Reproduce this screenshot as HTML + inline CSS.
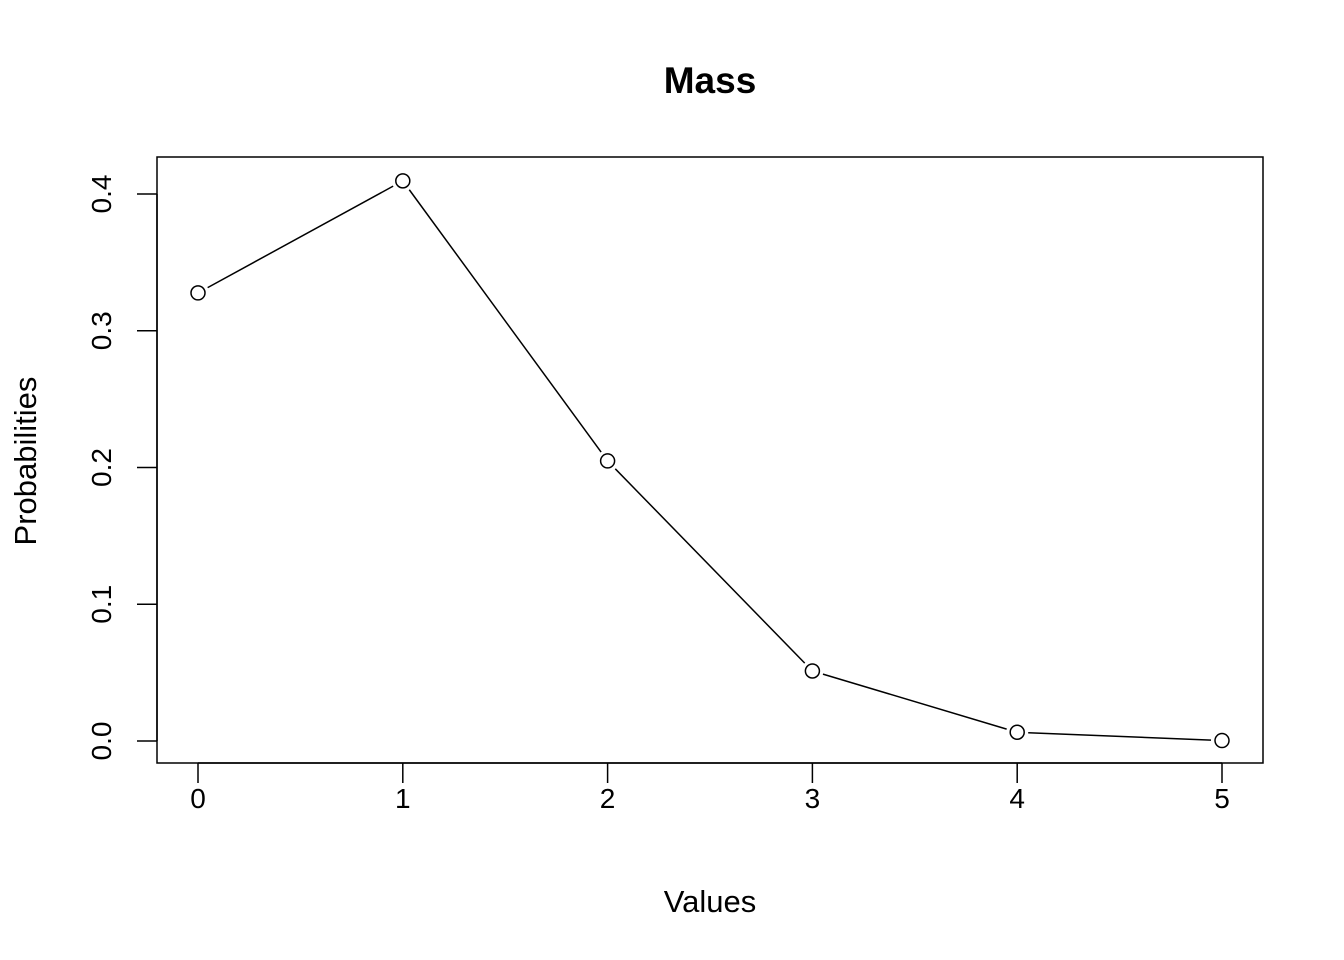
<!DOCTYPE html>
<html><head><meta charset="utf-8"><style>
body{margin:0;background:#fff;}
svg{display:block;font-family:"Liberation Sans",Arial,sans-serif;}
</style></head><body>
<svg id="chart" width="1344" height="960" viewBox="0 0 1344 960">
<rect width="1344" height="960" fill="#fff"/>
<text x="710" y="93" text-anchor="middle" font-size="37" font-weight="bold">Mass</text>
<rect x="157" y="157" width="1106" height="606" fill="none" stroke="#000" stroke-width="1.5"/>
<text x="710" y="912" text-anchor="middle" font-size="31">Values</text>
<text transform="translate(36,461) rotate(-90)" text-anchor="middle" font-size="31">Probabilities</text>
<g id="axes"></g>
<g id="marks"></g>
</svg>
<script>
const categories=[0,1,2,3,4,5];
const probabilities=[0.32768,0.4096,0.2048,0.0512,0.0064,0.00032];
const xTicks=[0,1,2,3,4,5];
const yTicks=[0.0,0.1,0.2,0.3,0.4];
const yTickLabels=["0.0","0.1","0.2","0.3","0.4"];
const NS="http://www.w3.org/2000/svg";
function xs(v){return 198+v*204.8;}
function ys(v){return 741-v*1367.5;}
function mk(tag,attrs,parent){const e=document.createElementNS(NS,tag);for(const k in attrs)e.setAttribute(k,attrs[k]);parent.appendChild(e);return e;}
const axes=document.getElementById('axes'),marks=document.getElementById('marks');
mk('line',{x1:xs(xTicks[0]),x2:xs(xTicks[xTicks.length-1]),y1:763,y2:763,stroke:'#000','stroke-width':1.5},axes);
xTicks.forEach((t,i)=>{
 const l=mk('line',{x1:xs(t),x2:xs(t),y1:763,y2:783,stroke:'#000','stroke-width':1.5},axes);
 
 
 const tx=mk('text',{x:xs(t),y:808,'text-anchor':'middle','font-size':28},axes);tx.textContent=t;
 
 
});
mk('line',{x1:157,x2:157,y1:ys(yTicks[0]),y2:ys(yTicks[yTicks.length-1]),stroke:'#000','stroke-width':1.5},axes);
yTicks.forEach((t,i)=>{
 const l=mk('line',{x1:137,x2:157,y1:ys(t),y2:ys(t),stroke:'#000','stroke-width':1.5},axes);
 
 
 const tx=mk('text',{transform:`translate(111,${ys(t)}) rotate(-90)`,'text-anchor':'middle','font-size':28},axes);tx.textContent=yTickLabels[i];
 
 
});
const gap=11;
for(let i=0;i<categories.length-1;i++){
 const x1=xs(categories[i]),y1=ys(probabilities[i]),x2=xs(categories[i+1]),y2=ys(probabilities[i+1]);
 const d=Math.hypot(x2-x1,y2-y1);if(d<=2*gap)continue;
 const ux=(x2-x1)/d,uy=(y2-y1)/d;
 const l=mk('line',{x1:x1+ux*gap,y1:y1+uy*gap,x2:x2-ux*gap,y2:y2-uy*gap,stroke:'#000','stroke-width':1.5},marks);
 
 
}
categories.forEach((c,i)=>{
 const p=mk('circle',{cx:xs(c),cy:ys(probabilities[i]),r:7,fill:'none',stroke:'#000','stroke-width':1.5},marks);
 
 
});
</script>
</body></html>
